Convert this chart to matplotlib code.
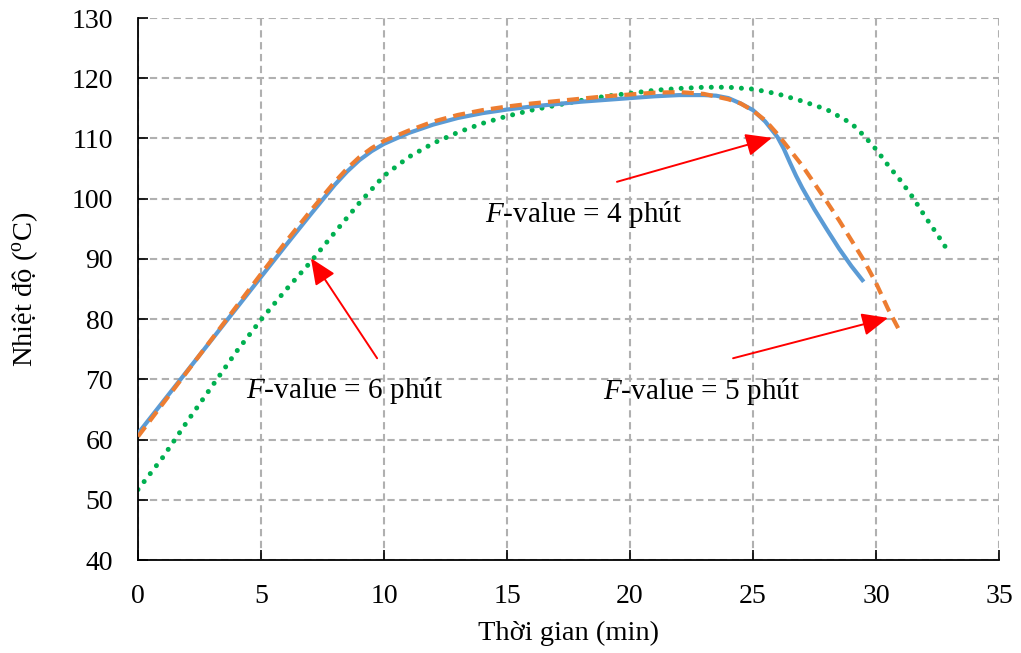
import matplotlib
matplotlib.use("Agg")
import matplotlib.pyplot as plt

plt.rcParams['font.family'] = ['Liberation Serif', 'DejaVu Serif']
plt.rcParams['mathtext.fontset'] = 'custom'
plt.rcParams['mathtext.rm'] = 'Liberation Serif'
plt.rcParams['mathtext.it'] = 'Liberation Serif:italic'

# F-value = 4 min (blue solid)
t4 = [0, 1, 2, 3, 4, 5, 6, 7, 8, 8.5, 9, 9.5, 10, 11, 12, 13, 14, 15, 16, 17, 18,
      19, 20, 21, 22, 23, 23.5, 24, 24.5, 25, 25.5, 26, 26.25, 26.5, 26.75, 27,
      27.5, 28, 28.5, 29, 29.5]
T4 = [61, 66.2, 71.4, 76.6, 81.8, 87.0, 92.2, 97.3, 102.3, 104.5, 106.4, 107.9,
      109.1, 110.9, 112.3, 113.4, 114.2, 114.8, 115.3, 115.7, 116.1, 116.4, 116.7,
      117.0, 117.2, 117.2, 117.1, 116.7, 115.8, 114.7, 112.8, 110.2, 108.3, 106.0,
      103.8, 101.8, 98.2, 94.9, 91.7, 88.8, 86.2]

# F-value = 5 min (orange dashed)
t5 = [0, 1, 2, 3, 4, 5, 6, 7, 8, 8.5, 9, 9.5, 10, 11, 12, 13, 14, 15, 16, 17, 18,
      19, 20, 21, 22, 23, 24, 24.5, 25, 25.5, 26, 26.5, 27, 27.5, 28, 28.5, 29,
      29.5, 30, 30.5, 30.9]
T5 = [60.5, 65.9, 71.3, 76.7, 82.1, 87.5, 92.8, 97.9, 102.8, 105.0, 106.9, 108.4,
      109.6, 111.3, 112.8, 113.9, 114.7, 115.3, 115.8, 116.2, 116.6, 117.0, 117.3,
      117.6, 117.7, 117.4, 116.5, 115.8, 114.6, 113.0, 110.7, 108.1, 105.5, 102.5,
      99.5, 96.4, 93.1, 89.8, 86.0, 81.6, 78.5]

# F-value = 6 min (green dotted)
t6 = [0, 1, 2, 3, 4, 5, 6, 7, 8, 9, 10, 11, 12, 13, 14, 15, 16, 17, 18, 19, 20,
      21, 22, 23, 24, 25, 26, 27, 28, 29, 29.5, 30, 30.5, 31, 31.5, 32, 32.5, 32.9]
T6 = [51.7, 57.0, 63.0, 68.8, 74.6, 79.9, 84.8, 89.4, 94.4, 99.3, 103.8, 106.9,
      109.2, 111.0, 112.5, 113.7, 114.7, 115.5, 116.3, 117.0, 117.5, 118.0, 118.3,
      118.5, 118.5, 118.2, 117.4, 116.2, 114.8, 112.5, 110.5, 108.2, 105.5, 103.0,
      100.2, 97.0, 94.0, 91.5]

labels = ["$\\mathit{F}$-value = 4 phút", "$\\mathit{F}$-value = 6 phút",
          "$\\mathit{F}$-value = 5 phút"]
label_pos = [(18.13, 97.3), (8.41, 68.2), (22.9, 67.9)]
arrow_tail = [(19.47, 102.8), (9.72, 73.5), (24.19, 73.5)]
arrow_head = [(25.77, 110.1), (7.03, 90.1), (30.49, 80.2)]

fig = plt.figure(figsize=(10.21, 6.53), dpi=100)
ax = fig.add_axes([138/1021, 1-560/653, (999-138)/1021, (560-18)/653])

ax.plot(t4, T4, color='#5B9BD5', lw=3, solid_capstyle='butt',
        solid_joinstyle='round', zorder=3)
ax.plot(t5, T5, color='#ED7D31', lw=3, linestyle=(0, (2.9, 1.7)),
        dash_capstyle='butt', zorder=4)
ax.plot(t6, T6, color='#00B050', lw=3.6, linestyle=(0, (0.01, 2.0)),
        dash_capstyle='round', zorder=2)

for (lx, ly), lab in zip(label_pos, labels):
    ax.text(lx, ly, lab, fontsize=21, ha='center', va='center', zorder=5)
for tail, head in zip(arrow_tail, arrow_head):
    ax.annotate('', xy=head, xytext=tail,
                arrowprops=dict(arrowstyle='-|>,head_length=0.8,head_width=0.35',
                                color='#FF0000', lw=1.4, shrinkA=0, shrinkB=0,
                                mutation_scale=20),
                zorder=6)

ax.set_xlim(0, 35)
ax.set_ylim(40, 130)
ax.set_xticks(range(0, 36, 5))
ax.set_yticks(range(40, 131, 10))
ax.grid(True, color='#b0b0b0', linestyle=(0, (3.5, 2.2)), lw=1.5)
ax.set_axisbelow(True)
for s in ['top', 'right']:
    ax.spines[s].set_visible(False)
for s in ['left', 'bottom']:
    ax.spines[s].set_linewidth(1.3)
ax.tick_params(direction='in', length=7, width=1.2, labelsize=20)
ax.tick_params(axis='x', pad=17)
ax.tick_params(axis='y', pad=18)

ax.set_xlabel("Thời gian (min)", fontsize=20.5, labelpad=9)
ax.set_ylabel("Nhiệt độ ($^{\\mathrm{o}}$C)", fontsize=20.5, labelpad=23)

fig.savefig("out.png", dpi=100)
